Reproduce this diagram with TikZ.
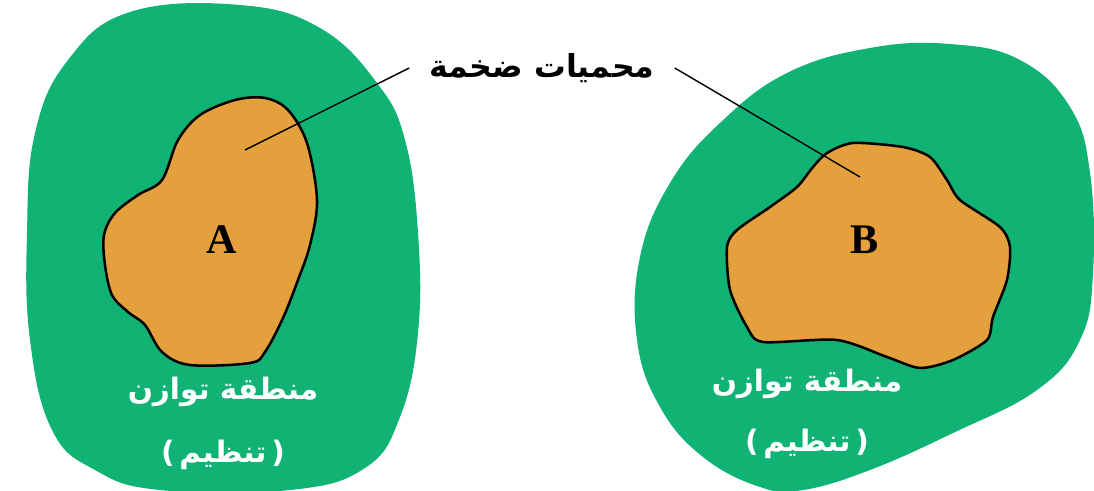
\documentclass[tikz,border=0pt]{standalone}
\usepackage{fontspec}
\newfontfamily\arabicfont[Script=Arabic]{DejaVu Sans}
\newfontfamily\parenfont{DejaVu Sans}
\newfontfamily\letterfont{Liberation Serif}
\TeXXeTstate=1
\usepackage{xcolor}
\usetikzlibrary{positioning}
\definecolor{zonegreen}{HTML}{10B374}
\definecolor{massorange}{HTML}{E4A03C}

\begin{document}
\begin{tikzpicture}[
  x=0.025cm, y=-0.025cm,
  zone/.style={fill=zonegreen, draw=none},
  mass/.style={fill=massorange, draw=black, line width=1.8pt, line join=round},
  zonelabel/.style={text=white, font=\arabicfont\bfseries\fontsize{21}{25}\selectfont},
  masslabel/.style={font=\arabicfont\bfseries\fontsize{22.5}{26}\selectfont, inner xsep=0.5cm},
  letter/.style={font=\letterfont\bfseries\fontsize{30}{34}\selectfont},
  leader/.style={line width=1pt}
]
\useasboundingbox (0,0) rectangle (1094,491);

% equilibrium zones
\path[zone] plot[smooth cycle, tension=0.7] coordinates {
  (130,12) (240,5) (320,28) (377,83) (405,140) (418,233) (418,333)
  (400,417) (365,468) (290,490) (160,490) (95,470) (52,430)
  (30,340) (27,233) (35,133) (68,60)};
\path[zone] plot[smooth cycle, tension=0.7] coordinates {
  (950,44) (1020,60) (1070,107) (1090,173) (1093,273) (1080,340)
  (1037,390) (953,433) (870,470) (803,490) (760,487) (703,457)
  (660,407) (637,340) (640,257) (670,183) (720,123) (787,73) (870,48)};

% large masses
\draw[mass] plot[smooth cycle, tension=0.55] coordinates {
  (265,98) (288,110) (307,143) (317,200) (310,245) (298,280) (283,318)
  (265,352) (250,363) (190,365) (162,352) (145,325) (128,312) (112,295)
  (105,265) (104,235) (115,213) (138,195) (162,180) (178,140) (200,115) (235,100)};
\draw[mass] plot[smooth cycle, tension=0.45] coordinates {
  (827,153) (853,143) (903,147) (930,157) (947,180) (960,200) (1000,227)
  (1010,247) (1007,280) (993,317) (987,340) (953,360) (920,368) (887,357)
  (837,340) (763,342) (747,327) (730,290) (727,247) (737,230) (770,207)
  (797,187) (813,167)};

\node[letter] (massA) at (222,240) {A};
\node[letter] (massB) at (865,240) {B};

\node[zonelabel] (zoneA) at (223,392) {\beginR منطقة توازن\endR};
\node[zonelabel] (regA) at (223,455) {{\parenfont(}\,\beginR تنظيم\endR\,{\parenfont)}};
\node[zonelabel] (zoneB) at (807,384) {\beginR منطقة توازن\endR};
\node[zonelabel] (regB) at (807,444) {{\parenfont(}\,\beginR تنظيم\endR\,{\parenfont)}};

\coordinate (ptA) at (245,150);
\coordinate (ptB) at (860,177);
\node[masslabel] (mass) at (542,68) {\beginR محميات ضخمة\endR};
\draw[leader] (mass.west) -- (ptA);
\draw[leader] (mass.east) -- (ptB);
\end{tikzpicture}
\end{document}
